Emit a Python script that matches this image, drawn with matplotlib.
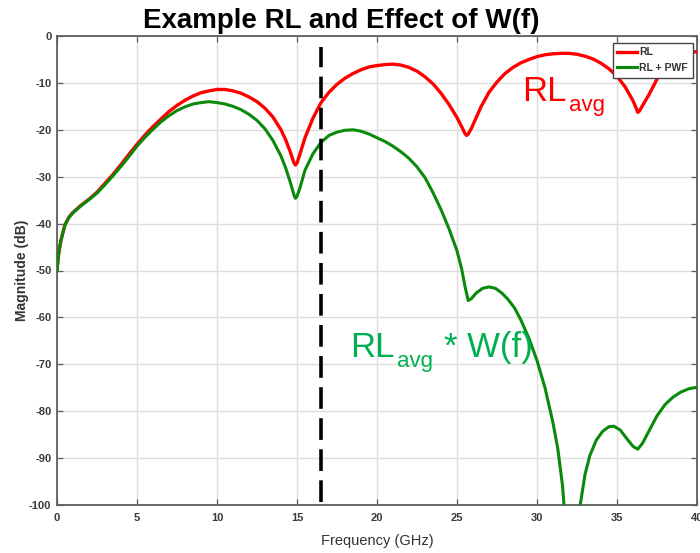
import matplotlib
matplotlib.use("Agg")
import matplotlib.pyplot as plt

plt.rcParams['axes.unicode_minus'] = False

# ---------------- data ----------------
rl_freq = [0, 0.1, 0.25, 0.5, 0.75, 1, 1.5, 2, 2.5, 3, 3.5, 4, 4.5, 5, 5.5, 6, 6.5, 7, 7.5,
           8, 8.5, 9, 9.5, 10, 10.5, 11, 11.5, 12, 12.5, 13, 13.5, 14, 14.3, 14.6, 14.8,
           14.9, 15.0, 15.2, 15.5, 16, 16.5, 17, 17.5, 18, 18.5, 19, 19.5, 20, 20.5, 21,
           21.5, 22, 22.5, 23, 23.5, 24, 24.5, 25, 25.3, 25.5, 25.6, 25.7, 25.9, 26.2,
           26.5, 27, 27.5, 28, 28.5, 29, 29.5, 30, 30.5, 31, 31.5, 32, 32.5, 33, 33.5,
           34, 34.5, 35, 35.5, 36, 36.2, 36.3, 36.4, 36.6, 37, 37.5, 38, 38.5, 39, 39.5, 40]
rl_db = [-50, -46.5, -43.5, -40.2, -38.6, -37.6, -36.1, -34.8, -33.3, -31.4, -29.5, -27.4,
         -25.2, -23.1, -21.1, -19.3, -17.7, -16.1, -14.8, -13.7, -12.8, -12.1, -11.7, -11.4,
         -11.4, -11.7, -12.2, -13.0, -14.0, -15.4, -17.3, -20.0, -22.2, -24.9, -27.0,
         -27.5, -27.1, -25.0, -21.7, -17.5, -14.2, -12.0, -10.3, -9.0, -8.0, -7.2, -6.6,
         -6.3, -6.1, -6.0, -6.2, -6.7, -7.5, -8.7, -10.2, -12.2, -14.6, -17.4, -19.4,
         -20.8, -21.2, -20.9, -19.7, -17.4, -15.1, -12.0, -9.8, -8.0, -6.7, -5.7, -5.0,
         -4.4, -4.0, -3.8, -3.7, -3.7, -3.9, -4.3, -4.9, -5.8, -7.0, -8.6, -10.8, -13.8,
         -15.4, -16.3, -16.0, -14.8, -12.5, -9.2, -6.7, -5.1, -4.1, -3.6, -3.3]

pwf_freq = [0, 0.1, 0.25, 0.5, 0.75, 1, 1.5, 2, 2.5, 3, 3.5, 4, 4.5, 5, 5.5, 6, 6.5, 7, 7.5,
            8, 8.5, 9, 9.5, 10, 10.5, 11, 11.5, 12, 12.5, 13, 13.5, 14, 14.3, 14.6, 14.8,
            14.9, 15.0, 15.2, 15.5, 16, 16.5, 17, 17.5, 18, 18.5, 19, 19.5, 20, 20.5, 21,
            21.5, 22, 22.5, 23, 23.5, 24, 24.5, 25, 25.3, 25.5, 25.7, 25.9, 26.2, 26.6,
            27.0, 27.4, 27.8, 28.2, 28.6, 29, 29.5, 30, 30.5, 31, 31.3, 31.6, 31.9, 32.2,
            32.5, 32.7, 33.0, 33.3, 33.7, 34.1, 34.5, 34.8, 35.2, 35.6, 36.0, 36.3, 36.6,
            37, 37.5, 38, 38.5, 39, 39.5, 40]
pwf_db = [-50, -46.5, -43.5, -40.3, -38.7, -37.7, -36.2, -34.9, -33.5, -31.7, -29.8, -27.8,
          -25.7, -23.5, -21.6, -19.9, -18.3, -17.0, -15.9, -15.1, -14.5, -14.2, -14.0, -14.2,
          -14.5, -15.0, -15.7, -16.7, -18.0, -19.8, -22.3, -25.6, -28.2, -31.4, -33.8,
          -34.6, -34.2, -32.2, -28.6, -25.1, -22.7, -21.2, -20.5, -20.1, -20.0, -20.3, -20.9,
          -21.7, -22.5, -23.5, -24.7, -26.1, -27.9, -30.2, -33.4, -37.0, -41.1, -45.8,
          -49.8, -53.4, -56.4, -56.0, -54.8, -53.8, -53.5, -53.8, -54.8, -56.2, -58.0,
          -60.6, -64.5, -69.2, -75.0, -82.5, -88.0, -96.0, -110.0, -118.0, -109.0, -100.0,
          -93.5, -89.5, -86.2, -84.3, -83.3, -83.2, -84.0, -85.8, -87.5, -88.1, -86.8,
          -84.2, -81.0, -78.6, -77.0, -75.9, -75.2, -74.9]

cutoff_freq = 16.5
series_labels = ["RL", "RL + PWF"]
x_ticks = list(range(0, 41, 5))
y_ticks = list(range(-100, 1, 10))

# ---------------- style ----------------
narrow = ['Liberation Sans Narrow', 'Liberation Sans', 'DejaVu Sans']
regular = ['Liberation Sans', 'DejaVu Sans']
spine_col = '#5f5f5f'
red = '#ff0000'
green = '#0a8a0a'
annot_green = '#00b050'

fig = plt.figure(figsize=(7.0, 5.53), dpi=100)
ax = fig.add_axes([57/700, 48/553, 640/700, 469/553])

ax.plot(rl_freq, rl_db, color=red, lw=2.4, label=series_labels[0], zorder=3,
        solid_joinstyle='round')
ax.plot(pwf_freq, pwf_db, color=green, lw=2.2, label=series_labels[1], zorder=3,
        solid_joinstyle='round')

ax.axvline(cutoff_freq, ymin=0.007, ymax=0.976, color='black', lw=2.6,
           linestyle=(0, (6.0, 2.6)), zorder=4)

ax.set_xlim(0, 40)
ax.set_ylim(-100, 0)
ax.set_xticks(x_ticks)
ax.set_yticks(y_ticks)
ax.grid(True, color='#dedede', lw=1.0)
ax.set_axisbelow(True)

for s in ax.spines.values():
    s.set_color(spine_col)
    s.set_linewidth(1.3)
ax.tick_params(direction='in', length=4, width=0.9, color=spine_col,
               top=True, right=True, labelcolor='#3a3a3a', labelsize=8)
ax.tick_params(axis='x', pad=6)
ax.tick_params(axis='y', pad=4)
for lab in ax.get_xticklabels() + ax.get_yticklabels():
    lab.set_family(narrow)
    lab.set_fontweight('bold')

ax.set_xlabel('Frequency (GHz)', family=narrow, fontsize=10.5, color='#333333', labelpad=8)
ax.set_ylabel('Magnitude (dB)', family=regular, fontsize=10, fontweight='bold',
              color='#333333')
ax.yaxis.set_label_coords(-0.044, 0.5)

leg = ax.legend(loc='upper right', bbox_to_anchor=(0.993, 0.986), frameon=True,
                fancybox=False, framealpha=1, edgecolor='#444444',
                prop={'family': narrow, 'size': 7.5, 'weight': 'bold'},
                handlelength=1.9, handletextpad=0.2, borderpad=0.45,
                labelspacing=0.55, borderaxespad=0)
leg.get_frame().set_linewidth(1.0)
leg.set_zorder(10)
for t in leg.get_texts():
    t.set_color('#333333')

# annotations
ax.text(29.1, -13.8, 'RL', color=red, fontsize=25, family=regular, ha='left', va='baseline')
ax.text(32.0, -15.9, 'avg', color=red, fontsize=16, family=regular, ha='left', va='baseline')
ax.text(18.3, -68.5, 'RL', color=annot_green, fontsize=25, family=regular, ha='left', va='baseline')
ax.text(21.25, -70.6, 'avg', color=annot_green, fontsize=16, family=regular, ha='left', va='baseline')
ax.text(24.2, -68.5, '* W(f)', color=annot_green, fontsize=25, family=regular, ha='left', va='baseline')

fig.text(341/700, 1 - 21/553, 'Example RL and Effect of W(f)', ha='center', va='center',
         fontsize=20, fontweight='bold', family=regular, color='black')

fig.savefig('out.png', dpi=100)
